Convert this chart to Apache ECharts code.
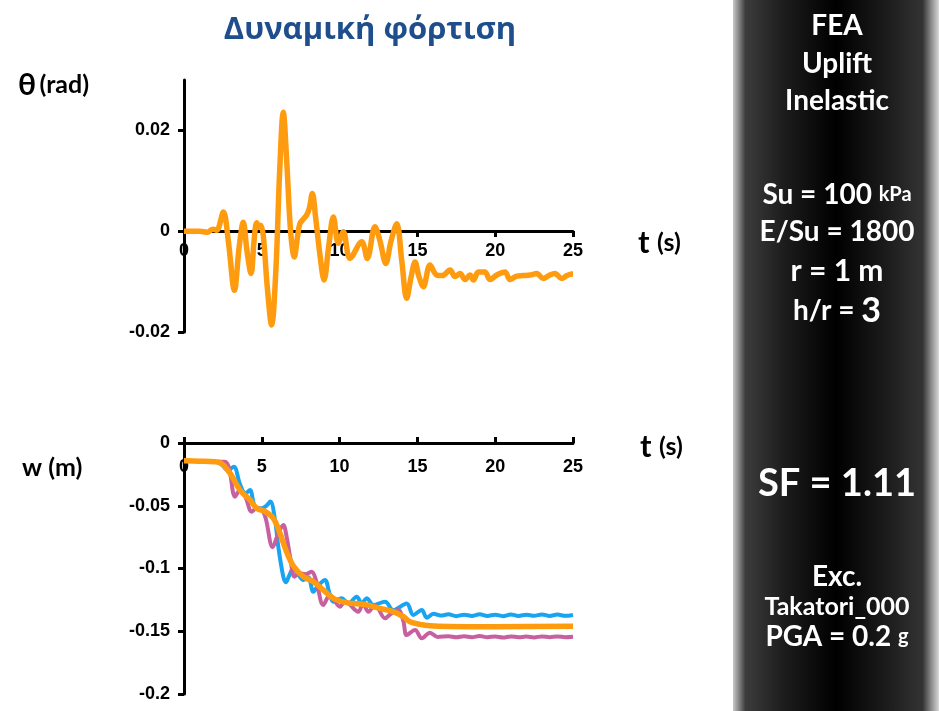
<!DOCTYPE html>
<html>
<head>
<meta charset="utf-8">
<script src="https://cdn.jsdelivr.net/npm/echarts@6/dist/echarts.min.js"></script>
<style>html,body{margin:0;padding:0;background:#fff}#c{width:949px;height:711px}</style>
</head>
<body>
<div id="c"></div>
<script>
// ---- data ----
const thetaT = [0,0.5,1.0,1.5,1.86,2.1,2.53,2.85,3.24,3.55,3.81,4.05,4.31,4.5,4.67,4.8,4.93,5.1,5.35,5.63,5.9,6.15,6.38,6.6,6.85,7.09,7.3,7.45,7.7,7.88,8.05,8.25,8.45,8.75,9.0,9.3,9.6,9.92,10.24,10.67,11.42,11.78,12.27,12.6,12.97,13.3,13.67,14.0,14.31,14.6,14.85,15.1,15.38,15.81,16.24,16.6,17.1,17.42,17.74,18.06,18.38,18.6,18.92,19.34,19.67,20.1,20.63,20.95,21.38,21.8,22.24,22.67,23.09,23.45,23.84,24.27,24.6,24.92,25];
const theta  = [0,0,0,-0.0002,0.0004,0.0002,0.0038,-0.002,-0.0117,-0.003,0.0018,-0.004,-0.0084,-0.002,0.0017,0.0008,0.0012,-0.001,-0.011,-0.0186,-0.008,0.012,0.0236,0.014,0.0,-0.0051,-0.001,0.0015,0.0025,0.0032,0.0045,0.0075,0.003,-0.005,-0.0097,-0.003,0.0028,-0.0024,-0.0001,-0.0054,-0.0021,-0.0054,0.0009,-0.002,-0.0064,-0.002,0.0015,-0.006,-0.0133,-0.009,-0.0061,-0.009,-0.011,-0.0067,-0.0087,-0.0088,-0.0077,-0.009,-0.0084,-0.0096,-0.0087,-0.0097,-0.0081,-0.0081,-0.0096,-0.0087,-0.0081,-0.0096,-0.0089,-0.0088,-0.0087,-0.0084,-0.0094,-0.0088,-0.0084,-0.0094,-0.0088,-0.0085,-0.0085];

const wBlueT = [0,1,2,2.4,2.8,3.2,3.6,3.95,4.24,4.56,5.0,5.3,5.55,5.85,6.06,6.38,6.55,6.75,7.03,7.3,7.67,7.99,8.31,8.6,9.06,9.35,9.6,10.13,10.56,11.1,11.42,11.74,12.17,12.92,13.45,14.31,14.74,15.28,15.6,16.03,16.5,17,17.5,18,18.5,19,19.5,20,20.5,21,21.5,22,22.5,23,23.5,24,24.5,25];
const wBlue  = [-0.0141,-0.0145,-0.015,-0.017,-0.0215,-0.019,-0.033,-0.04,-0.0375,-0.0507,-0.052,-0.05,-0.0467,-0.0613,-0.0826,-0.1065,-0.111,-0.106,-0.0999,-0.104,-0.1092,-0.107,-0.1185,-0.114,-0.1092,-0.12,-0.1264,-0.1238,-0.1278,-0.1225,-0.1278,-0.1238,-0.129,-0.1264,-0.1331,-0.1278,-0.137,-0.1331,-0.1392,-0.136,-0.1375,-0.1365,-0.138,-0.1368,-0.1378,-0.1365,-0.1378,-0.1368,-0.138,-0.1366,-0.1378,-0.1368,-0.1377,-0.1366,-0.1378,-0.1367,-0.1377,-0.137];

const wPinkT = [0,1,2,2.63,2.9,3.28,3.6,3.95,4.35,4.67,5.0,5.25,5.7,6.06,6.38,6.6,6.85,7.1,7.4,7.8,8.2,8.5,8.95,9.38,10.03,10.35,11.2,11.5,11.85,12.28,12.92,13.3,13.77,14.1,14.31,14.85,15.28,15.81,16.3,17,17.5,18,18.5,19,19.5,20,20.5,21,21.5,22,22.5,23,23.5,24,24.5,25];
const wPink  = [-0.0141,-0.0145,-0.015,-0.0149,-0.02,-0.0428,-0.0375,-0.043,-0.0547,-0.052,-0.053,-0.06,-0.083,-0.072,-0.0653,-0.075,-0.093,-0.1065,-0.104,-0.1045,-0.1025,-0.11,-0.129,-0.1211,-0.1304,-0.126,-0.1344,-0.128,-0.1344,-0.129,-0.1397,-0.136,-0.1331,-0.142,-0.153,-0.149,-0.1556,-0.1511,-0.1545,-0.154,-0.1548,-0.154,-0.1547,-0.1538,-0.1547,-0.1542,-0.155,-0.1541,-0.1548,-0.1542,-0.1549,-0.1541,-0.1547,-0.1541,-0.1547,-0.1543];

const wOrangeT = [0,1,2,2.31,2.96,3.6,4.24,4.67,5.2,5.74,6.17,6.6,7.03,7.67,8.31,8.95,9.6,10.45,11.74,12.6,13.45,14.1,14.52,15.17,15.81,17,20,25];
const wOrange  = [-0.0141,-0.0145,-0.015,-0.0155,-0.0242,-0.0375,-0.0454,-0.052,-0.0545,-0.06,-0.072,-0.087,-0.098,-0.1065,-0.1105,-0.1171,-0.1238,-0.1272,-0.129,-0.1318,-0.1344,-0.1384,-0.1424,-0.1445,-0.1456,-0.1462,-0.1464,-0.146];

const thetaTicks = [-0.02, 0, 0.02];

// ---- build ----
const pair = (t, v) => t.map((x, i) => [x, v[i]]);
const axisLab = {color:'#000', fontFamily:'Liberation Sans, Arial', fontWeight:'bold', fontSize:18};
const axLine = {show:true, lineStyle:{color:'#000', width:3}};
const tick = {show:true, length:6, lineStyle:{width:3,color:'#000'}};
const ORANGE = '#FF9B0F', BLUE = '#18A4F2', PINK = '#C7609F';
const LATO = 'Lato, "Open Sans", sans-serif';

const chart = echarts.init(document.getElementById('c'), null, {renderer:'canvas'});
const panelTextBase = {fill:'#fff', fontFamily:LATO, fontWeight:'bold', align:'center', verticalAlign:'middle'};
const R = {
  b:{fill:'#fff', fontSize:28, fontWeight:'bold', fontFamily:LATO},
  b30:{fill:'#fff', fontSize:30, fontWeight:'bold', fontFamily:LATO},
  s:{fill:'#fff', fontSize:20, fontWeight:'bold', fontFamily:LATO},
  big:{fill:'#fff', fontSize:34, fontWeight:'bold', fontFamily:LATO}
};
function ptxt(y, text, size) {
  return {type:'text', x:837, y:y, style:Object.assign({}, panelTextBase, {text:text, rich:R, fontSize:size || 28})};
}
const blk = (sz) => ({fontSize:sz, fontWeight:'bold', fill:'#000', fontFamily:LATO});
chart.setOption({
  animation:false,
  backgroundColor:'#fff',
  title:{text:'Δυναμική φόρτιση', left:365, top:10, textAlign:'center',
    textStyle:{color:'#1F4E8C', fontFamily:'"Open Sans", "Noto Sans", sans-serif', fontWeight:'bold', fontSize:31}},
  grid:[
    {left:184, width:389, top:80, height:252},
    {left:184, width:389, top:443, height:251}
  ],
  xAxis:[
    {gridIndex:0, type:'value', min:0, max:25, interval:5, axisLine:Object.assign({onZero:false}, axLine), offset:-101,
     axisTick:tick, splitLine:{show:false},
     axisLabel:Object.assign({margin:11}, axisLab)},
    {gridIndex:1, type:'value', min:0, max:25, interval:5, position:'top', axisLine:axLine,
     axisTick:tick, splitLine:{show:false},
     axisLabel:Object.assign({inside:true, margin:15}, axisLab)}
  ],
  yAxis:[
    {gridIndex:0, type:'value', min:-0.02, max:0.03, interval:0.01, axisLine:Object.assign({onZero:false}, axLine),
     axisTick:Object.assign({customValues:thetaTicks}, tick), splitLine:{show:false},
     axisLabel:Object.assign({margin:14, customValues:thetaTicks}, axisLab)},
    {gridIndex:1, type:'value', min:-0.2, max:0, interval:0.05, axisLine:Object.assign({onZero:false}, axLine),
     axisTick:tick, splitLine:{show:false},
     axisLabel:Object.assign({margin:14}, axisLab)}
  ],
  series:[
    {type:'line', xAxisIndex:0, yAxisIndex:0, data:pair(thetaT, theta), smooth:0.35, showSymbol:false, lineStyle:{color:ORANGE, width:5.5}, z:5},
    {type:'line', xAxisIndex:1, yAxisIndex:1, data:pair(wBlueT, wBlue), smooth:0.35, showSymbol:false, lineStyle:{color:BLUE, width:4}},
    {type:'line', xAxisIndex:1, yAxisIndex:1, data:pair(wPinkT, wPink), smooth:0.35, showSymbol:false, lineStyle:{color:PINK, width:4}},
    {type:'line', xAxisIndex:1, yAxisIndex:1, data:pair(wOrangeT, wOrange), smooth:0.35, showSymbol:false, lineStyle:{color:ORANGE, width:5.5}}
  ],
  graphic:[
    {type:'rect', shape:{x:733, y:0, width:206, height:711}, z:-1,
     style:{fill:new echarts.graphic.LinearGradient(0,0,1,0,[
       {offset:0, color:'#c8c8c8'},{offset:0.06, color:'#3c3c3c'},{offset:0.25, color:'#1c1c1c'},
       {offset:0.5, color:'#000'},{offset:0.75, color:'#1c1c1c'},{offset:0.92, color:'#333'},{offset:1, color:'#d8d8d8'}])}},
    // axis titles
    {type:'text', x:18, y:85, style:{text:'{a|θ} {b|(rad)}', verticalAlign:'middle', rich:{a:blk(30), b:blk(25)}}},
    {type:'text', x:22, y:468, style:{text:'w (m)', verticalAlign:'middle', fontSize:25, fontWeight:'bold', fill:'#000', fontFamily:LATO}},
    {type:'text', x:638, y:243, style:{text:'{a|t }{b|(s)}', verticalAlign:'middle', rich:{a:blk(31), b:blk(25)}}},
    {type:'text', x:640, y:447, style:{text:'{a|t }{b|(s)}', verticalAlign:'middle', rich:{a:blk(31), b:blk(25)}}},
    // panel text
    ptxt(26, '{b|FEA}'),
    ptxt(64, '{b|Uplift}'),
    ptxt(101, '{b|Inelastic}'),
    ptxt(195, '{b|Su = 100 }{s|kPa}'),
    ptxt(232, '{b|E/Su = 1800}'),
    ptxt(271, '{b30|r = 1 m}'),
    ptxt(311, '{b|h/r = }{big|3}'),
    {type:'text', x:837, y:484, style:Object.assign({}, panelTextBase, {text:'SF = 1.11', fontSize:38})},
    ptxt(577, '{b|Exc.}'),
    {type:'text', x:837, y:607, style:Object.assign({}, panelTextBase, {text:'Takatori_000', fontSize:25})},
    ptxt(637, '{b|PGA = 0.2 }{s|g}')
  ]
});
</script>
</body>
</html>
